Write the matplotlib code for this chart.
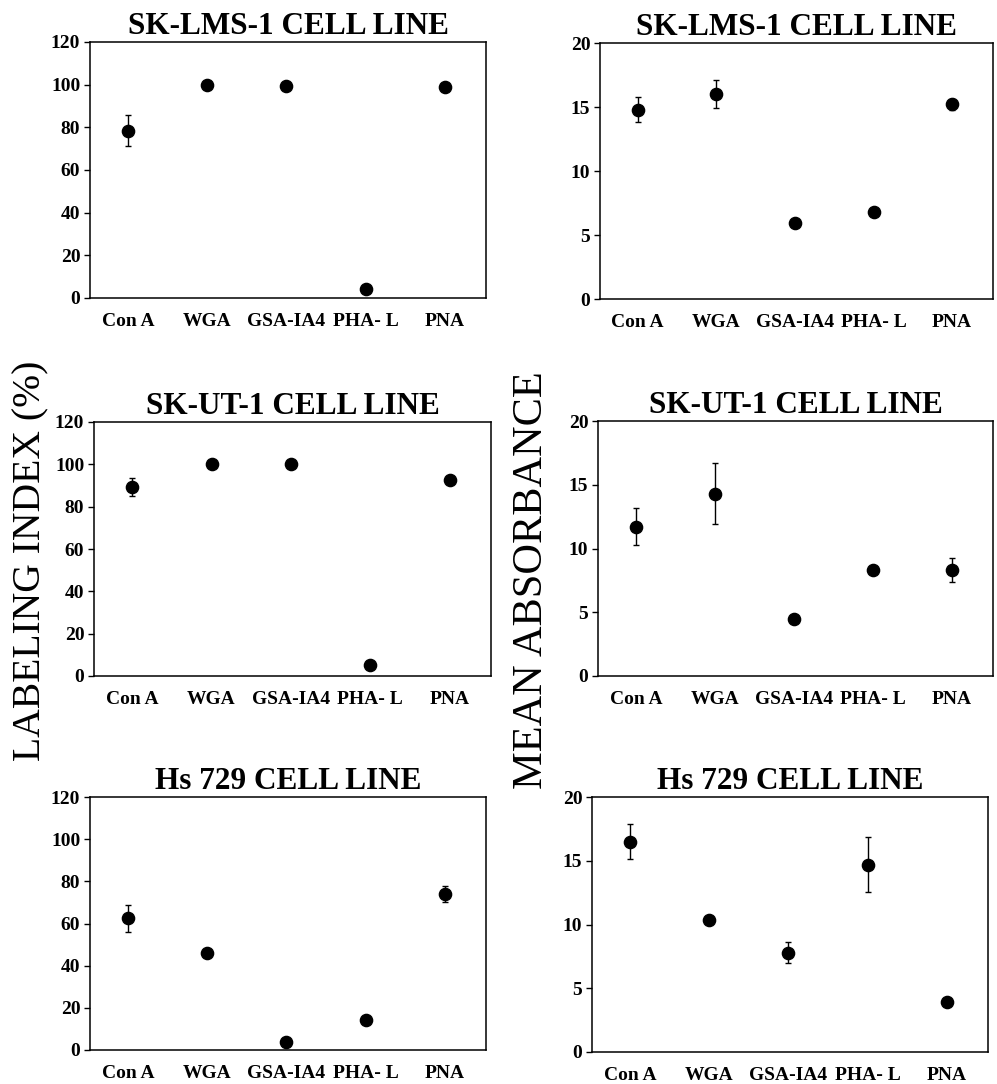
import matplotlib
matplotlib.use("Agg")
import matplotlib.pyplot as plt

# Lectins tested on each cell line
lectins = ["Con A", "WGA", "GSA-IA4", "PHA- L", "PNA"]

# Labeling index (%) per cell line, mean and error
lms_index = [78.5, 99.7, 99.2, 4.4, 98.7]
lms_index_err = [7.2, 0.0, 0.0, 0.0, 0.0]
ut_index = [89.2, 100.0, 100.0, 5.2, 92.8]
ut_index_err = [4.3, 0.0, 0.0, 0.0, 0.0]
hs_index = [62.4, 45.8, 3.8, 14.2, 73.9]
hs_index_err = [6.5, 0.0, 0.0, 0.0, 3.9]

# Mean absorbance per cell line, mean and error
lms_abs = [14.8, 16.0, 5.9, 6.8, 15.2]
lms_abs_err = [1.0, 1.1, 0.0, 0.0, 0.4]
ut_abs = [11.7, 14.3, 4.5, 8.3, 8.3]
ut_abs_err = [1.45, 2.4, 0.0, 0.0, 0.95]
hs_abs = [16.5, 10.35, 7.8, 14.7, 3.95]
hs_abs_err = [1.4, 0.3, 0.8, 2.15, 0.0]

titles = ["SK-LMS-1 CELL LINE", "SK-UT-1 CELL LINE", "Hs 729 CELL LINE"]

W, H = 997, 1084
fig = plt.figure(figsize=(W / 100, H / 100), dpi=100)

SERIF = ["Liberation Serif", "DejaVu Serif"]

# panel boxes in pixels: left, right, top, bottom
boxes = [
    [(90, 486, 42, 298), (600, 993, 43, 299)],
    [(94, 491, 422, 676), (598, 993, 421, 676)],
    [(90, 486, 797, 1050), (592, 988, 797, 1052)],
]

series = [
    [(lms_index, lms_index_err), (lms_abs, lms_abs_err)],
    [(ut_index, ut_index_err), (ut_abs, ut_abs_err)],
    [(hs_index, hs_index_err), (hs_abs, hs_abs_err)],
]

xpos = list(range(1, len(lectins) + 1))

for r in range(3):
    for c in range(2):
        l, rt, t, b = boxes[r][c]
        ax = fig.add_axes([l / W, 1 - b / H, (rt - l) / W, (b - t) / H])
        vals, errs = series[r][c]
        ax.errorbar(xpos, vals, yerr=errs, fmt="o", color="black",
                    markersize=8.8, elinewidth=1.0, capsize=2.3,
                    capthick=1.0, ecolor="black")
        ax.set_xlim(0.52, 5.52)
        if c == 0:
            ax.set_ylim(0, 120)
            ax.set_yticks(range(0, 121, 20))
        else:
            ax.set_ylim(0, 20)
            ax.set_yticks(range(0, 21, 5))
        ax.set_xticks(xpos)
        ax.set_xticklabels(lectins)
        for lab in ax.get_xticklabels() + ax.get_yticklabels():
            lab.set_fontfamily(SERIF)
            lab.set_fontweight("bold")
            lab.set_fontsize(14)
        ax.tick_params(axis="x", length=0, pad=11)
        ax.tick_params(axis="y", length=4, width=1.0, pad=3, direction="out")
        for sp in ax.spines.values():
            sp.set_linewidth(1.1)
        ax.set_title(titles[r], fontfamily=SERIF, fontweight="bold",
                     fontsize=22.5, pad=6)

fig.text(31 / W, 1 - 561 / H, "LABELING INDEX (%)", rotation=90,
         ha="center", va="center", fontfamily=SERIF, fontsize=28.5)
fig.text(532 / W, 1 - 580 / H, "MEAN ABSORBANCE", rotation=90,
         ha="center", va="center", fontfamily=SERIF, fontsize=30.5)

fig.savefig("out.png", dpi=100, facecolor="white")
